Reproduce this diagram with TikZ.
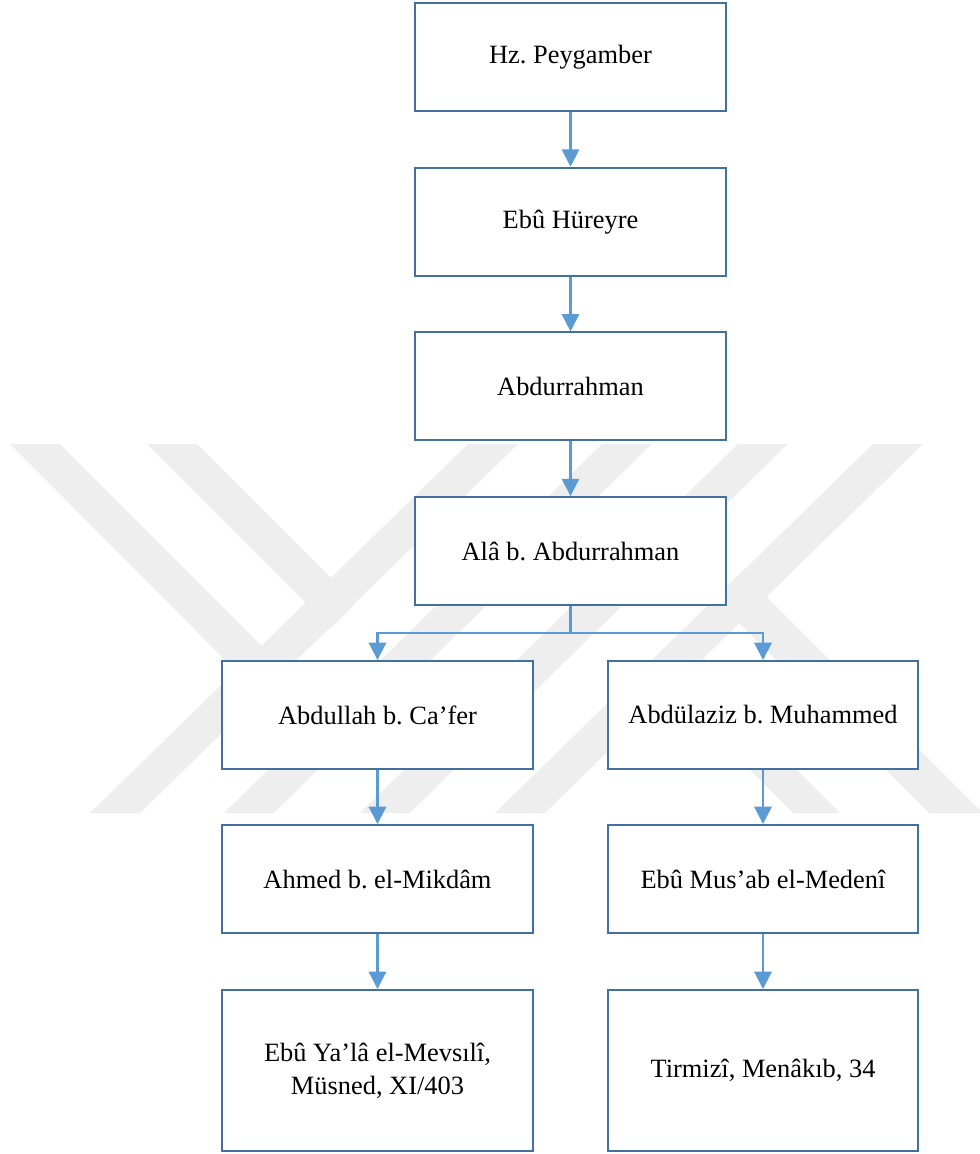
\documentclass[tikz,border=0pt]{standalone}
\usepackage{fontspec}
\setmainfont{Liberation Serif}
\frenchspacing
\usetikzlibrary{arrows.meta,positioning,calc}
\definecolor{boxblue}{RGB}{65,113,156}
\definecolor{arrowblue}{RGB}{91,155,213}
\definecolor{markgrey}{RGB}{238,238,238}
\tikzset{%
  every ravi/.style={
    rectangle,
    draw=boxblue,
    fill=white,
    line width=1.5pt,
    minimum width=233pt,
    minimum height=81pt,
    align=center,
    font=\fontsize{19.8}{24.5}\selectfont
  },
  ravi 3/.style={
    minimum height=120.75pt
  },
  isnad/.style={->, draw=arrowblue, line width=1.6pt},
  watermark/.style={fill=markgrey, draw=none},
}

\begin{document}
\begin{tikzpicture}[x=0.75pt, y=-0.75pt, >={Triangle[width=13pt,length=13pt]}]
            \useasboundingbox (0,0) rectangle (980,1154);

            \foreach \b in {90,224,360,495}
                \fill [watermark] (\b,813) -- ++(50,0) -- ++(378,-369) -- ++(-50,0) -- cycle;
            \fill [watermark] (10,444) -- (60,444) -- (287,671) -- (261,696) -- cycle;
            \fill [watermark] (147,444) -- (197,444) -- (356,603) -- (331,628) -- cycle;
            \fill [watermark] (742,572) -- (714.6,598.6) -- (929,813) -- (980,813) -- (980,810) -- cycle;
            \fill [watermark] (650,670) -- (697,670) -- (840,813) -- (793,813) -- cycle;

            \foreach \l [count=\y] in {Hz. Peygamber, Ebû Hüreyre, Abdurrahman, Alâ b. Abdurrahman}
                \node [every ravi/.try] (chain-\y) at (570.5,{57+(\y-1)*164.7}) {\l};
            \foreach \m/\l [count=\y] in {715/Abdullah b. Ca’fer, 879/Ahmed b. el-Mikdâm, 1070.5/{Ebû Ya’lâ el-Mevsılî,\\Müsned, XI/403}}
                \node [every ravi/.try, ravi \y/.try] (left-\y) at (377.5,\m) {\l};
            \foreach \m/\l [count=\y] in {715/Abdülaziz b. Muhammed, 879/Ebû Mus’ab el-Medenî, 1070.5/{Tirmizî, Menâkıb, 34}}
                \node [every ravi/.try, ravi \y/.try] (right-\y) at (763,\m) {\l};

            \foreach \i/\j in {1/2,2/3,3/4}
                \draw [isnad] (chain-\i) -- (chain-\j);
            \coordinate (split) at (570.5,633);
            \draw [isnad] (chain-4.south) -- (split) -| (left-1.north);
            \draw [isnad] (split) -| (right-1.north);
            \foreach \i/\j in {1/2,2/3} {
                \draw [isnad] (left-\i) -- (left-\j);
                \draw [isnad] (right-\i) -- (right-\j);
            }
\end{tikzpicture}
\end{document}
